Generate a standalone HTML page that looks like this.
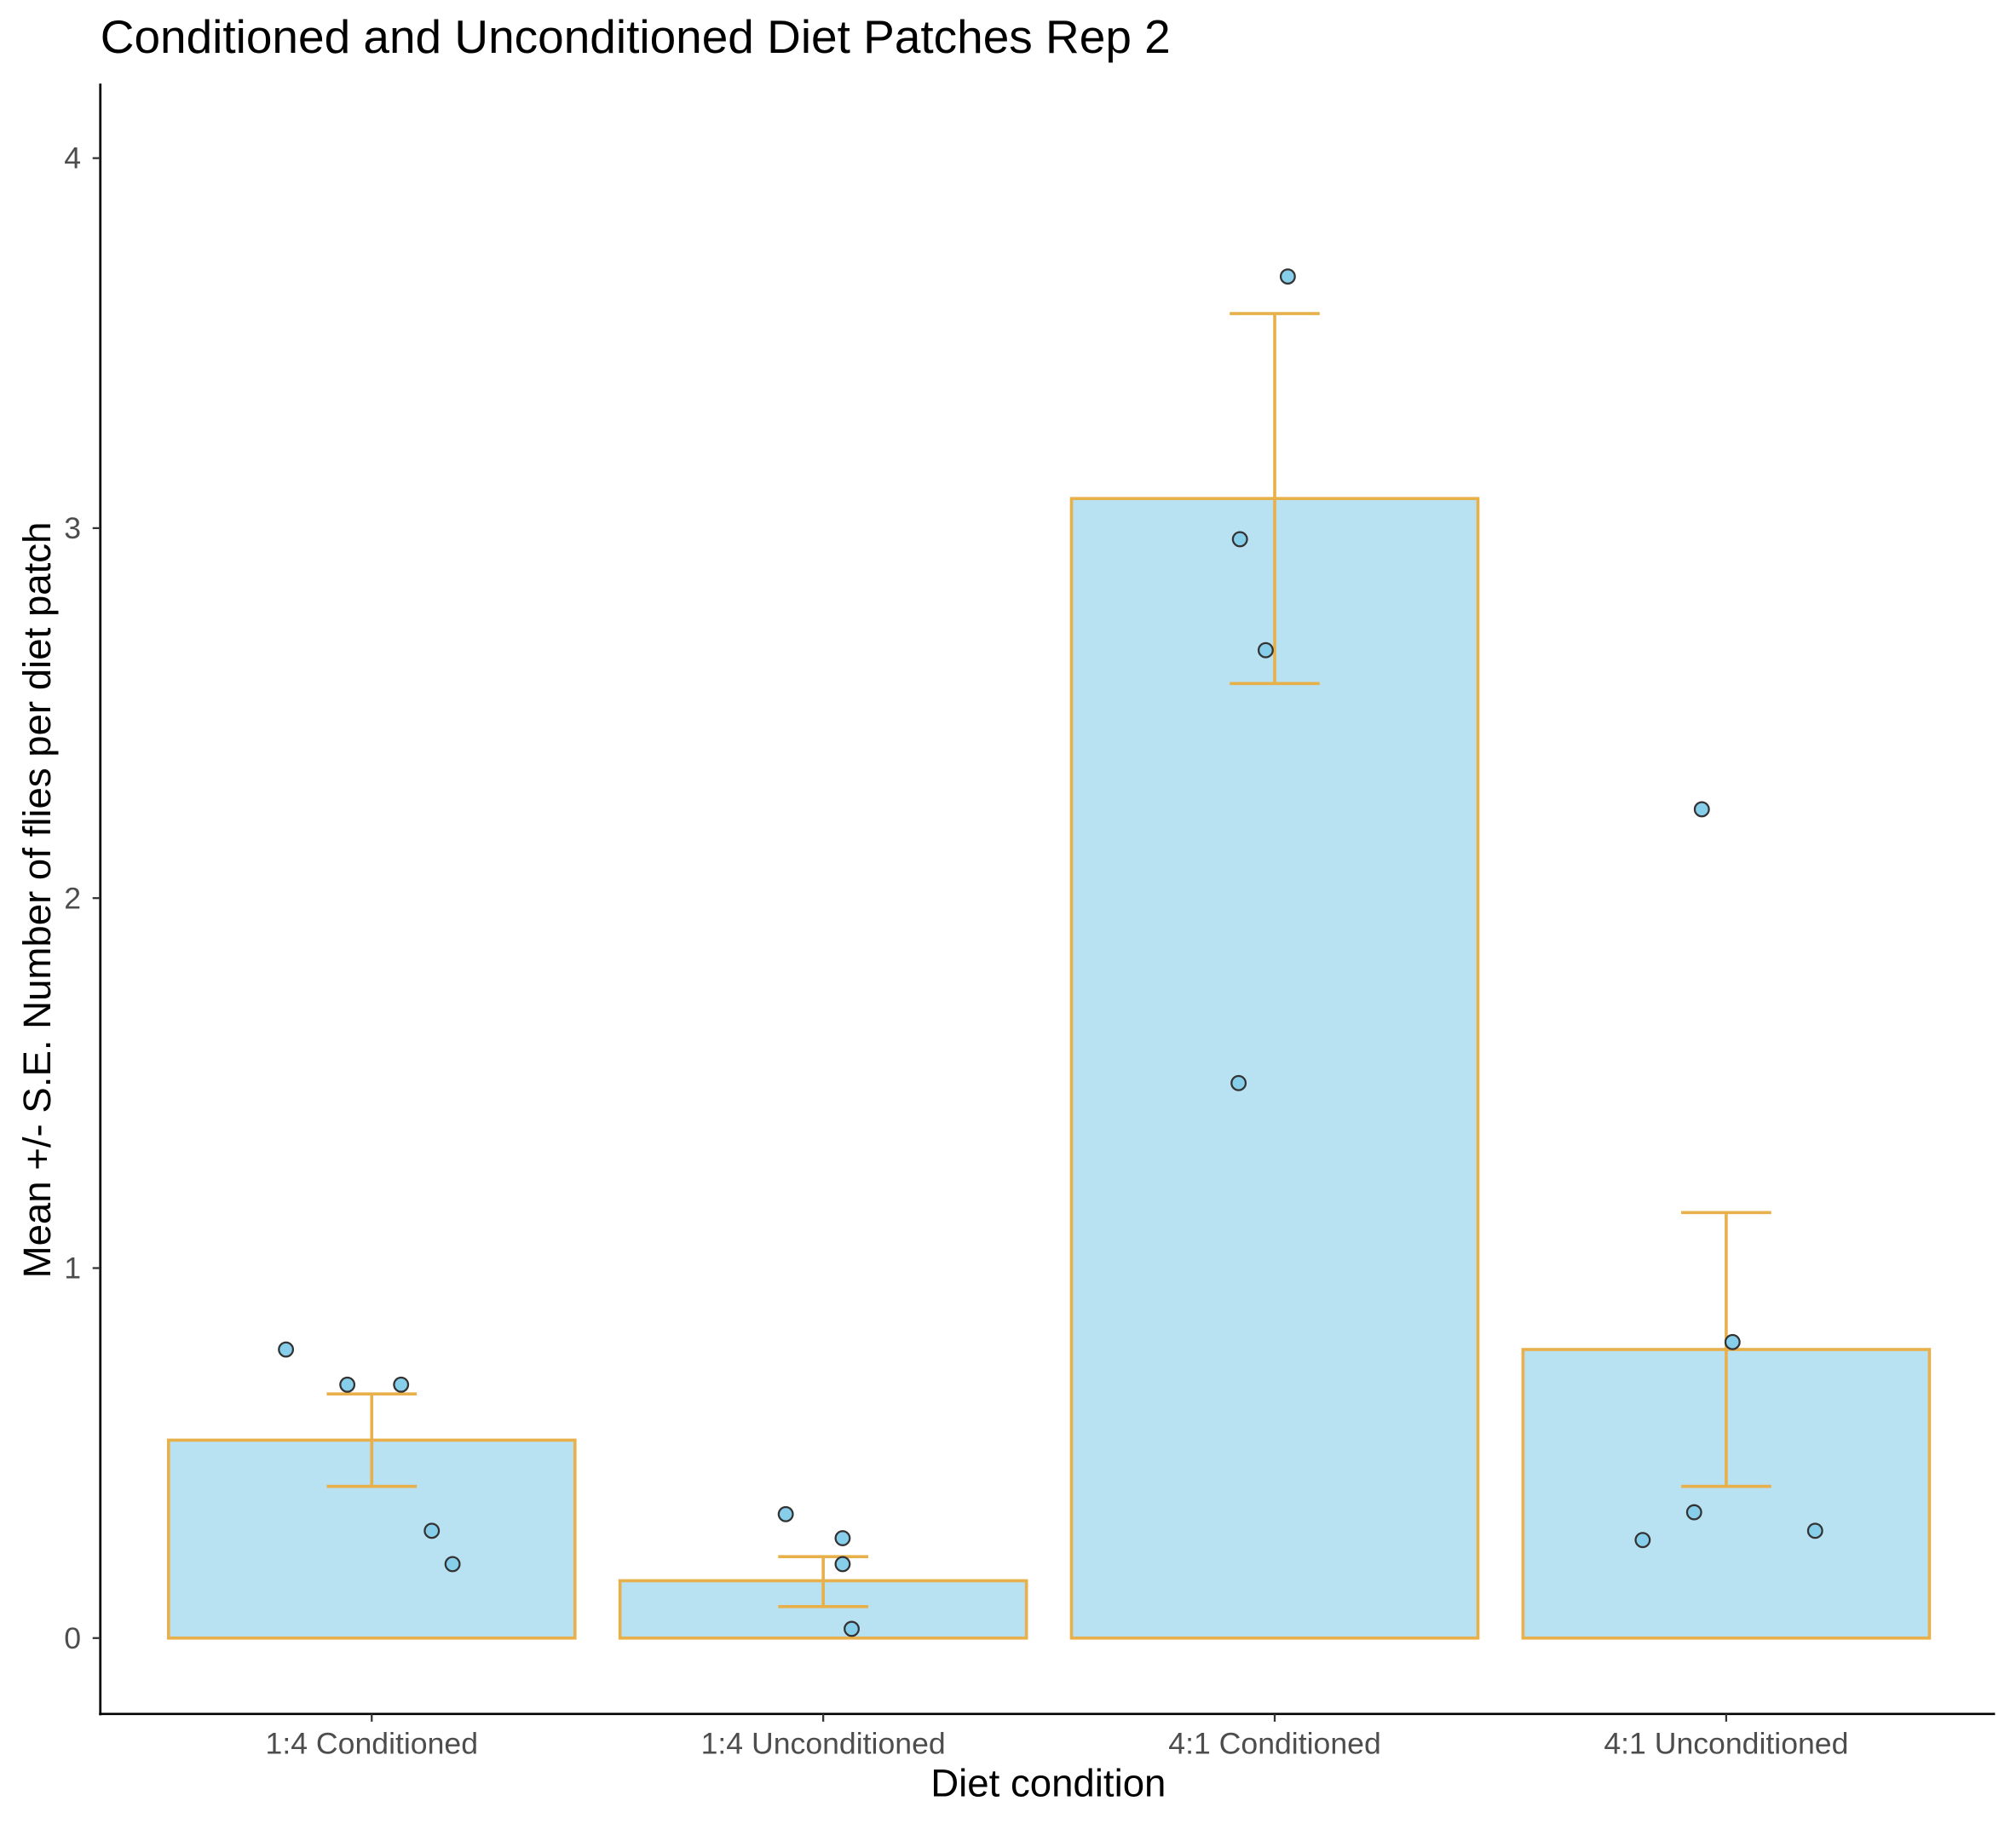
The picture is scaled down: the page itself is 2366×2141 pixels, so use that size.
<!DOCTYPE html>
<html><head><meta charset="utf-8"><style>html,body{margin:0;padding:0;background:#fff}svg{display:block}text{font-family:"Liberation Sans",sans-serif}</style></head>
<body>
<svg id="chart" width="2366" height="2141" viewBox="0 0 1567.3 1418.6" preserveAspectRatio="none" xmlns="http://www.w3.org/2000/svg">
<text x="78" y="41" font-size="36" fill="#000" textLength="832" lengthAdjust="spacingAndGlyphs">Conditioned and Unconditioned Diet Patches Rep 2</text>
<text transform="translate(39,700) rotate(-90)" text-anchor="middle" font-size="30.2" fill="#000">Mean +/- S.E. Number of flies per diet patch</text>
<text x="815" y="1397" text-anchor="middle" font-size="30.2" fill="#000">Diet condition</text>
<g id="plot"></g>
</svg>
<script>
const categories = ["1:4 Conditioned","1:4 Unconditioned","4:1 Conditioned","4:1 Unconditioned"];
const means = [0.535, 0.155, 3.08, 0.78];
const seLow = [0.41, 0.085, 2.58, 0.41];
const seHigh = [0.66, 0.22, 3.58, 1.15];
const yTicks = [0, 1, 2, 3, 4];
const pointCat = [0,0,0,0,0, 1,1,1,1, 2,2,2,2, 3,3,3,3,3];
const pointVal = [0.78,0.685,0.685,0.29,0.2, 0.335,0.27,0.2,0.025, 3.68,2.97,2.67,1.5, 2.24,0.8,0.34,0.265,0.29];
const pointJitter = [-0.19,-0.054,0.065,0.133,0.179, -0.083,0.043,0.043,0.063, 0.029,-0.077,-0.02,-0.08, -0.054,0.014,-0.071,-0.185,0.197];

const NS="http://www.w3.org/2000/svg";
const g=document.getElementById('plot');
const y=v=>1274-v*287.75;
const x=i=>289+i*351;
const bw=316;
function mk(t,a){const e=document.createElementNS(NS,t);for(const k in a)e.setAttribute(k,a[k]);g.appendChild(e);return e;}
let e;
e=mk('line',{x1:78,y1:65,x2:78,y2:1334,stroke:'#000','stroke-width':1.8});


e=mk('line',{x1:77,y1:1333,x2:1551,y2:1333,stroke:'#000','stroke-width':1.8});


yTicks.forEach(t=>{
  e=mk('line',{x1:72,y1:y(t),x2:78,y2:y(t),stroke:'#333','stroke-width':1.5});
  
  
  e=mk('text',{x:63,y:y(t)+8,'text-anchor':'end','font-size':23.6,fill:'#4d4d4d'});e.textContent=t;
  
  
});
categories.forEach((c,i)=>{
  e=mk('rect',{x:x(i)-bw/2,y:y(means[i]),width:bw,height:y(0)-y(means[i]),fill:'#b8e1f2',stroke:'#e8b04a','stroke-width':2.4});
  
  
  e=mk('path',{d:`M${x(i)-35},${y(seHigh[i])}H${x(i)+35}M${x(i)},${y(seHigh[i])}V${y(seLow[i])}M${x(i)-35},${y(seLow[i])}H${x(i)+35}`,stroke:'#e8b04a','stroke-width':2.4,fill:'none'});
  
  
  e=mk('line',{x1:x(i),y1:1333,x2:x(i),y2:1339,stroke:'#333','stroke-width':1.5});
  
  
  e=mk('text',{x:x(i),y:1364,'text-anchor':'middle','font-size':23.6,fill:'#4d4d4d'});e.textContent=c;
  
  
});
pointVal.forEach((v,k)=>{
  e=mk('circle',{cx:x(pointCat[k]+pointJitter[k]),cy:y(v),r:5.5,fill:'#87ceeb',stroke:'#333','stroke-width':1.5});
  
  
});
</script>
</body></html>
